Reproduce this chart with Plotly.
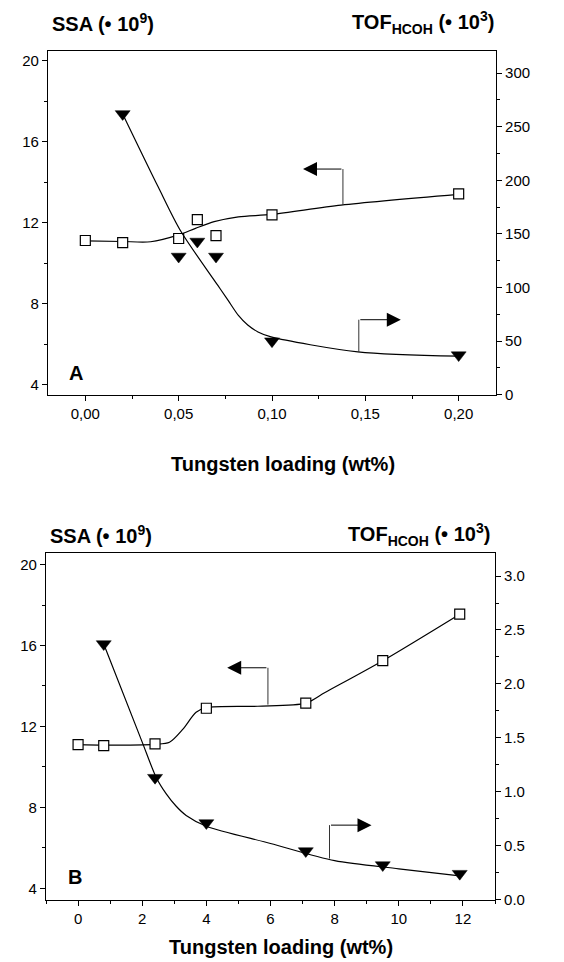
import plotly.graph_objects as go

# ---------------- Data: panel A (low loading) ----------------
a_ssa_x = [0.00, 0.02, 0.05, 0.06, 0.07, 0.10, 0.20]
a_ssa_y = [11.12, 11.02, 11.22, 12.15, 11.36, 12.39, 13.42]
a_tof_x = [0.02, 0.05, 0.06, 0.07, 0.10, 0.20]
a_tof_y = [262, 129, 143, 129, 50, 37]
# fitted guide curves
a_ssa_fit_x = [0.00, 0.02, 0.035, 0.05, 0.059, 0.069, 0.082, 0.10, 0.137, 0.20]
a_ssa_fit_y = [11.10, 11.07, 11.06, 11.40, 11.72, 12.05, 12.29, 12.41, 12.87, 13.40]
a_tof_fit_x = [0.02, 0.039, 0.051, 0.071, 0.0765, 0.082, 0.087, 0.0925, 0.0995, 0.146, 0.20]
a_tof_fit_y = [262, 194, 153, 102, 88, 74, 65, 58.6, 54, 40, 36]

# ---------------- Data: panel B (high loading) ----------------
b_ssa_x = [0.0, 0.8, 2.4, 4.0, 7.1, 9.5, 11.9]
b_ssa_y = [11.10, 11.05, 11.14, 12.90, 13.15, 15.25, 17.55]
b_tof_x = [0.8, 2.4, 4.0, 7.1, 9.5, 11.9]
b_tof_y = [2.37, 1.13, 0.71, 0.45, 0.32, 0.24]
b_ssa_fit_x = [0.0, 0.8, 2.4, 2.85, 3.27, 3.68, 4.0, 5.6, 7.1, 7.7, 9.5, 11.9]
b_ssa_fit_y = [11.10, 11.08, 11.12, 11.22, 11.87, 12.70, 12.93, 13.00, 13.15, 13.68, 15.25, 17.55]
b_tof_fit_x = [0.8, 2.0, 2.44, 2.75, 3.06, 3.37, 4.0, 6.0, 8.0, 10.0, 11.9]
b_tof_fit_y = [2.37, 1.46, 1.13, 0.98, 0.865, 0.78, 0.68, 0.52, 0.36, 0.285, 0.22]

# tick labels
a_x_tickvals = [0.00, 0.05, 0.10, 0.15, 0.20]
a_x_ticktext = ["0,00", "0,05", "0,10", "0,15", "0,20"]
left_tickvals = [4, 8, 12, 16, 20]
a_right_tickvals = [0, 50, 100, 150, 200, 250, 300]
b_x_tickvals = [0, 2, 4, 6, 8, 10, 12]
b_right_tickvals = [0.0, 0.5, 1.0, 1.5, 2.0, 2.5, 3.0]
b_right_ticktext = ["0.0", "0.5", "1.0", "1.5", "2.0", "2.5", "3.0"]

# guide arrows: (corner-start, corner, head) in data units
a_ssa_arrow = dict(x0=0.138, y0=12.88, xc=0.138, yc=14.65, xh=0.1166)
a_tof_arrow = dict(x0=0.1465, y0=40, xc=0.1465, yc=70, xh=0.169)
b_ssa_arrow = dict(x0=5.92, y0=13.08, xc=5.92, yc=14.9, xh=4.65)
b_tof_arrow = dict(x0=7.84, y0=0.38, xc=7.84, yc=0.69, xh=9.15)

W, H = 564, 962
FONT = "Liberation Sans, Arial, sans-serif"

def px_x(p):
    return p / W

def px_y(p):
    return 1 - p / H

fig = go.Figure()

line_style = dict(color="black", width=1.2)
sq_marker = dict(symbol="square", size=10, color="white", line=dict(color="black", width=1.2))
tri_marker = dict(symbol="triangle-down", size=13, color="black", line=dict(color="black", width=0.5))

# Panel A
fig.add_trace(go.Scatter(x=a_ssa_fit_x, y=a_ssa_fit_y, mode="lines", line=dict(**line_style, shape="spline", smoothing=0.8),
                         xaxis="x", yaxis="y", hoverinfo="skip"))
fig.add_trace(go.Scatter(x=a_tof_fit_x, y=a_tof_fit_y, mode="lines", line=dict(**line_style, shape="spline", smoothing=0.8),
                         xaxis="x", yaxis="y2", hoverinfo="skip"))
fig.add_trace(go.Scatter(x=a_ssa_x, y=a_ssa_y, mode="markers", marker=sq_marker, xaxis="x", yaxis="y"))
fig.add_trace(go.Scatter(x=a_tof_x, y=a_tof_y, mode="markers", marker=tri_marker, xaxis="x", yaxis="y2"))

# Panel B
fig.add_trace(go.Scatter(x=b_ssa_fit_x, y=b_ssa_fit_y, mode="lines", line=dict(**line_style, shape="spline", smoothing=0.8),
                         xaxis="x2", yaxis="y3", hoverinfo="skip"))
fig.add_trace(go.Scatter(x=b_tof_fit_x, y=b_tof_fit_y, mode="lines", line=dict(**line_style, shape="spline", smoothing=0.8),
                         xaxis="x2", yaxis="y4", hoverinfo="skip"))
fig.add_trace(go.Scatter(x=b_ssa_x, y=b_ssa_y, mode="markers", marker=sq_marker, xaxis="x2", yaxis="y3"))
fig.add_trace(go.Scatter(x=b_tof_x, y=b_tof_y, mode="markers", marker=tri_marker, xaxis="x2", yaxis="y4"))

tickfont = dict(family=FONT, size=15, color="black")
common_axis = dict(showline=True, linecolor="black", linewidth=1.2, ticks="outside", ticklen=5,
                   tickwidth=1, tickcolor="black", showgrid=False, zeroline=False, tickfont=tickfont)

dom_x_a = [px_x(40), px_x(488)]
dom_x_b = [px_x(38), px_x(487)]
dom_y_a = [px_y(390), px_y(43)]
dom_y_b = [px_y(899), px_y(550)]

fig.update_layout(
    width=W, height=H,
    margin=dict(l=0, r=0, t=0, b=0),
    paper_bgcolor="white", plot_bgcolor="white",
    showlegend=False,
    font=dict(family=FONT, color="black"),
    xaxis=dict(**common_axis, domain=dom_x_a, anchor="y", range=[-0.02, 0.22], mirror=True,
               tickvals=a_x_tickvals, ticktext=a_x_ticktext,
               minor=dict(ticks="outside", ticklen=3, dtick=0.025, tick0=0, tickcolor="black")),
    yaxis=dict(**common_axis, domain=dom_y_a, anchor="x", range=[3.5, 20.5], tickvals=left_tickvals,
               minor=dict(ticks="outside", ticklen=3, dtick=2, tick0=0, tickcolor="black")),
    yaxis2=dict(**common_axis, overlaying="y", side="right", anchor="x", range=[0, 321],
                tickvals=a_right_tickvals,
                minor=dict(ticks="outside", ticklen=3, dtick=25, tick0=0, tickcolor="black")),
    xaxis2=dict(**common_axis, domain=dom_x_b, anchor="y3", range=[-1, 13], mirror=True,
                tickvals=b_x_tickvals,
                minor=dict(ticks="outside", ticklen=3, dtick=1, tick0=0, tickcolor="black")),
    yaxis3=dict(**common_axis, domain=dom_y_b, anchor="x2", range=[3.45, 20.55], tickvals=left_tickvals,
                minor=dict(ticks="outside", ticklen=3, dtick=2, tick0=0, tickcolor="black")),
    yaxis4=dict(**common_axis, overlaying="y3", side="right", anchor="x2", range=[0, 3.21],
                tickvals=b_right_tickvals, ticktext=b_right_ticktext,
                minor=dict(ticks="outside", ticklen=3, dtick=0.25, tick0=0, tickcolor="black")),
)

shapes = []
annotations = []

def add_arrow(arr, xref, yref):
    shapes.append(dict(type="line", xref=xref, yref=yref, x0=arr["x0"], y0=arr["y0"],
                       x1=arr["xc"], y1=arr["yc"], line=dict(color="#333333", width=1)))
    annotations.append(dict(x=arr["xh"], y=arr["yc"], ax=arr["xc"], ay=arr["yc"], xref=xref, yref=yref,
                            axref=xref, ayref=yref, text="", showarrow=True, arrowhead=2,
                            arrowsize=2.8, arrowwidth=1, arrowcolor="black", standoff=0))

add_arrow(a_ssa_arrow, "x", "y")
add_arrow(a_tof_arrow, "x", "y2")
add_arrow(b_ssa_arrow, "x2", "y3")
add_arrow(b_tof_arrow, "x2", "y4")

def text(x, y, s, xanchor="center", size=20):
    annotations.append(dict(x=x, y=y, xref="paper", yref="paper", text=s, showarrow=False,
                            xanchor=xanchor, yanchor="middle",
                            font=dict(family=FONT, size=size, color="black")))

ssa_title = "<b>SSA (• 10<sup>9</sup>)</b>"
tof_title = "<b>TOF<sub>HCOH</sub> (• 10<sup>3</sup>)</b>"
x_title = "<b>Tungsten loading (wt%)</b>"

text(px_x(42), px_y(15), ssa_title, "left")
text(px_x(488), px_y(15), tof_title, "right")
text(px_x(275), px_y(460), x_title, "center", 20)
text(px_x(68), px_y(368), "<b>A</b>", "center", 20)

text(px_x(40), px_y(531), ssa_title, "left")
text(px_x(484), px_y(531), tof_title, "right")
text(px_x(273), px_y(947), x_title, "center", 20)
text(px_x(67), px_y(876), "<b>B</b>", "center", 20)

fig.update_layout(shapes=shapes, annotations=annotations)

fig.write_html("out.html")
